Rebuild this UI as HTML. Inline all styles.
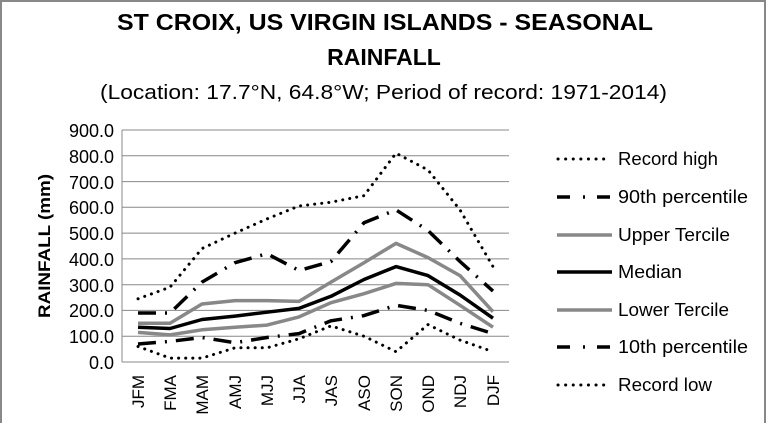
<!DOCTYPE html>
<html><head><meta charset="utf-8"><style>
body{margin:0;background:#fff}
svg text{font-family:"Liberation Sans",Calibri,sans-serif;fill:#000}
</style></head><body>
<svg width="769" height="423" viewBox="0 0 769 423" xmlns="http://www.w3.org/2000/svg">
<rect x="1" y="1" width="764" height="425" fill="#fff" stroke="#888" stroke-width="2"/>
<text x="117" y="30" font-size="23" font-weight="bold" textLength="536" lengthAdjust="spacingAndGlyphs">ST CROIX, US VIRGIN ISLANDS - SEASONAL</text>
<text x="384" y="65" font-size="23" font-weight="bold" text-anchor="middle">RAINFALL</text>
<text x="100" y="99" font-size="20" textLength="567" lengthAdjust="spacingAndGlyphs">(Location: 17.7°N, 64.8°W; Period of record: 1971-2014)</text>
<text transform="translate(50,246) rotate(-90)" font-size="17" font-weight="bold" text-anchor="middle" textLength="144" lengthAdjust="spacingAndGlyphs">RAINFALL (mm)</text>
<g stroke="#888" stroke-width="1">
<line x1="122" y1="130" x2="509" y2="130"/><line x1="122" y1="155.8" x2="509" y2="155.8"/><line x1="122" y1="181.6" x2="509" y2="181.6"/><line x1="122" y1="207.3" x2="509" y2="207.3"/><line x1="122" y1="233.1" x2="509" y2="233.1"/><line x1="122" y1="258.9" x2="509" y2="258.9"/><line x1="122" y1="284.7" x2="509" y2="284.7"/><line x1="122" y1="310.4" x2="509" y2="310.4"/><line x1="122" y1="336.2" x2="509" y2="336.2"/><line x1="122" y1="362" x2="509" y2="362"/>
<line x1="122" y1="130" x2="122" y2="362"/>
</g>
<g font-size="18" text-anchor="end">
<text x="114" y="137">900.0</text><text x="114" y="163">800.0</text><text x="114" y="189">700.0</text><text x="114" y="214">600.0</text><text x="114" y="240">500.0</text><text x="114" y="266">400.0</text><text x="114" y="292">300.0</text><text x="114" y="317">200.0</text><text x="114" y="343">100.0</text><text x="114" y="369">0.0</text>
</g>
<g font-size="17" text-anchor="end">
<text transform="translate(144,375) rotate(-90)">JFM</text><text transform="translate(176,375) rotate(-90)">FMA</text><text transform="translate(208,375) rotate(-90)">MAM</text><text transform="translate(241,375) rotate(-90)">AMJ</text><text transform="translate(273,375) rotate(-90)">MJJ</text><text transform="translate(305,375) rotate(-90)">JJA</text><text transform="translate(337,375) rotate(-90)">JAS</text><text transform="translate(370,375) rotate(-90)">ASO</text><text transform="translate(402,375) rotate(-90)">SON</text><text transform="translate(434,375) rotate(-90)">OND</text><text transform="translate(466,375) rotate(-90)">NDJ</text><text transform="translate(499,375) rotate(-90)">DJF</text>
</g>
<g fill="none" stroke-linejoin="round">
<polyline stroke="#000" stroke-width="3" stroke-dasharray="0.1 7" stroke-linecap="round" points="138,298.8 170,287.2 202,248.6 235,233.1 267,218.9 299,206.0 331,202.2 364,195.7 396,153.2 428,170.0 460,209.9 493,266.6"/>
<polyline stroke="#000" stroke-width="3.5" stroke-dasharray="18 9 2 9" points="138,313.0 170,313.0 202,282.1 235,262.7 267,253.7 299,270.5 331,261.5 364,222.8 396,209.9 428,230.5 460,261.5 493,291.1"/>
<polyline stroke="#888" stroke-width="3.5" points="138,323.3 170,323.3 202,304.0 235,300.6 267,300.6 299,301.4 331,282.1 364,262.7 396,243.4 428,257.6 460,275.6 493,311.7"/>
<polyline stroke="#000" stroke-width="3.5" points="138,327.2 170,328.5 202,319.5 235,316.1 267,312.2 299,308.4 331,296.3 364,279.5 396,266.6 428,275.6 460,295.0 493,318.2"/>
<polyline stroke="#888" stroke-width="3.5" points="138,332.4 170,334.9 202,329.8 235,327.2 267,325.1 299,316.9 331,302.7 364,293.7 396,283.4 428,284.7 460,305.3 493,327.2"/>
<polyline stroke="#000" stroke-width="3.5" stroke-dasharray="18 9 2 9" points="138,344.0 170,341.4 202,337.5 235,342.7 267,337.5 299,333.6 331,320.8 364,315.6 396,305.3 428,310.4 460,323.3 493,333.6"/>
<polyline stroke="#000" stroke-width="3" stroke-dasharray="0.1 7" stroke-linecap="round" points="138,346.5 170,358.1 202,358.1 235,347.8 267,347.8 299,338.8 331,325.9 364,336.2 396,351.7 428,324.6 460,340.1 493,351.7"/>
</g>
<g fill="none">
<line x1="558" y1="159" x2="611" y2="159" stroke="#000" stroke-width="3" stroke-dasharray="0.1 7.5" stroke-linecap="round"/>
<line x1="557" y1="197" x2="612" y2="197" stroke="#000" stroke-width="3.5" stroke-dasharray="13 13 2 12"/>
<line x1="557" y1="235" x2="612" y2="235" stroke="#888" stroke-width="3.5"/>
<line x1="557" y1="272" x2="612" y2="272" stroke="#000" stroke-width="3.5"/>
<line x1="557" y1="310" x2="612" y2="310" stroke="#888" stroke-width="3.5"/>
<line x1="557" y1="347" x2="612" y2="347" stroke="#000" stroke-width="3.5" stroke-dasharray="13 13 2 12"/>
<line x1="558" y1="385" x2="611" y2="385" stroke="#000" stroke-width="3" stroke-dasharray="0.1 7.5" stroke-linecap="round"/>
</g>
<g font-size="18">
<text x="618" y="165" textLength="100" lengthAdjust="spacingAndGlyphs">Record high</text>
<text x="618" y="203" textLength="130" lengthAdjust="spacingAndGlyphs">90th percentile</text>
<text x="618" y="241" textLength="112" lengthAdjust="spacingAndGlyphs">Upper Tercile</text>
<text x="618" y="278" textLength="64" lengthAdjust="spacingAndGlyphs">Median</text>
<text x="618" y="316" textLength="111" lengthAdjust="spacingAndGlyphs">Lower Tercile</text>
<text x="618" y="353" textLength="130" lengthAdjust="spacingAndGlyphs">10th percentile</text>
<text x="618" y="391" textLength="94" lengthAdjust="spacingAndGlyphs">Record low</text>
</g>
</svg>
</body></html>
